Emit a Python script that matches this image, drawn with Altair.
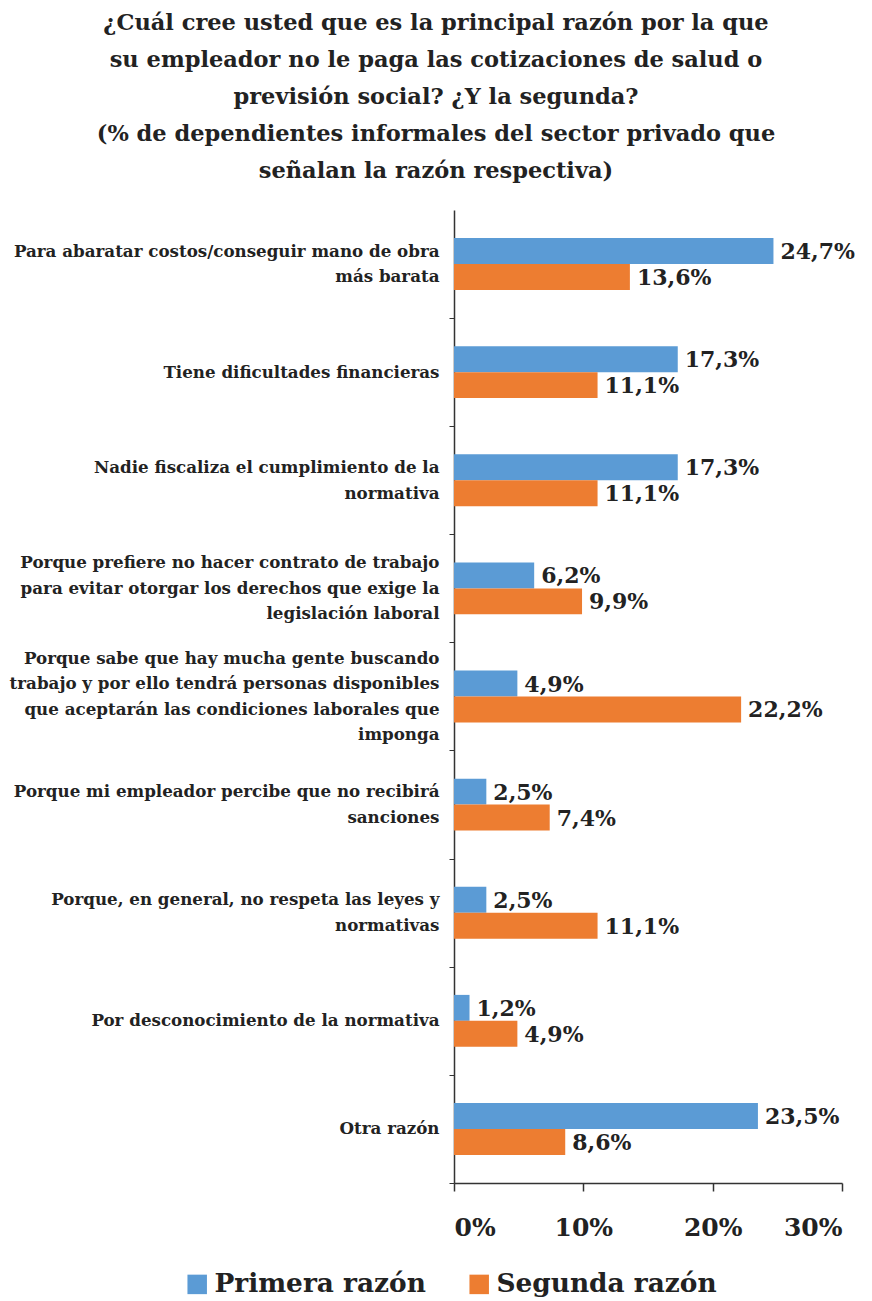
import altair as alt
import pandas as pd

categories = [
    "Para abaratar costos/conseguir mano de obra|más barata",
    "Tiene dificultades financieras",
    "Nadie fiscaliza el cumplimiento de la|normativa",
    "Porque prefiere no hacer contrato de trabajo|para evitar otorgar los derechos que exige la|legislación laboral",
    "Porque sabe que hay mucha gente buscando|trabajo y por ello tendrá personas disponibles|que aceptarán las condiciones laborales que|imponga",
    "Porque mi empleador percibe que no recibirá|sanciones",
    "Porque, en general, no respeta las leyes y|normativas",
    "Por desconocimiento de la normativa",
    "Otra razón",
]
series = ["Primera razón", "Segunda razón"]
primera = [24.7, 17.3, 17.3, 6.2, 4.9, 2.5, 2.5, 1.2, 23.5]
segunda = [13.6, 11.1, 11.1, 9.9, 22.2, 7.4, 11.1, 4.9, 8.6]
colors = ["#5B9BD5", "#ED7D31"]
x_ticks = [0, 10, 20, 30]

rows = []
for c, a, b in zip(categories, primera, segunda):
    for s, v in zip(series, [a, b]):
        rows.append({"cat": c, "serie": s, "valor": v,
                     "etiqueta": f"{v:.1f}".replace(".", ",") + "%"})
df = pd.DataFrame(rows)

FONT = "DejaVu Serif"
LH = 25.5
BASE_OFF = -28
nlines = "length(split(datum.value, '|'))"
label_offset = {
    "condition": [
        {"test": f"{nlines} == 2", "value": BASE_OFF - LH / 2},
        {"test": f"{nlines} == 3", "value": BASE_OFF - LH},
        {"test": f"{nlines} == 4", "value": BASE_OFF - 1.5 * LH},
    ],
    "value": BASE_OFF,
}

y_enc = alt.Y("cat:N", sort=categories, title=None,
              scale=alt.Scale(paddingInner=0.52, paddingOuter=0.26),
              axis=alt.Axis(labelExpr="split(datum.label, '|')",
                            labelAlign="right", labelBaseline="middle",
                            labelFont=FONT, labelFontWeight="bold",
                            labelFontSize=16.7, labelLineHeight=LH,
                            labelColor="#222222", labelPadding=10,
                            labelLimit=0, labelOffset=label_offset,
                            bandPosition=1, tickOffset=28,
                            tickSize=5, tickColor="#333333",
                            domainColor="#333333", domainWidth=1.5))
x_enc = alt.X("valor:Q", title=None,
              scale=alt.Scale(domain=[0, 30], nice=False),
              axis=alt.Axis(values=x_ticks, labelExpr="datum.value + '%'",
                            labelFont=FONT, labelFontWeight="bold",
                            labelFontSize=25, labelColor="#222222",
                            labelPadding=24, tickSize=8, tickColor="#333333",
                            tickWidth=1.5, domainColor="#333333",
                            domainWidth=1.5, grid=False))

base = alt.Chart(df).encode(
    y=y_enc,
    yOffset=alt.YOffset("serie:N", sort=series, scale=alt.Scale(paddingInner=0)),
)

bars = base.mark_bar().encode(
    x=x_enc,
    color=alt.Color("serie:N", sort=series,
                    scale=alt.Scale(domain=series, range=colors),
                    legend=alt.Legend(title=None, orient="none",
                                      direction="horizontal",
                                      legendX=-270, legendY=1061,
                                      symbolType="square", symbolSize=380,
                                      symbolStrokeWidth=0,
                                      labelFont=FONT, labelFontWeight="bold",
                                      labelFontSize=26.4, labelColor="#222222",
                                      labelLimit=0,
                                      columnPadding=40, labelOffset=4)),
)

labels = base.mark_text(align="left", baseline="middle", dx=7, dy=1,
                        font=FONT, fontWeight="bold", fontSize=22,
                        color="#222222").encode(
    x="valor:Q",
    text="etiqueta:N",
)

chart = alt.layer(bars, labels).properties(
    width=388,
    height=973,
    title=alt.TitleParams(
        text=["¿Cuál cree usted que es la principal razón por la que",
              "su empleador no le paga las cotizaciones de salud o",
              "previsión social? ¿Y la segunda?",
              "(% de dependientes informales del sector privado que",
              "señalan la razón respectiva)"],
        font=FONT, fontWeight="bold", fontSize=22.5, lineHeight=37,
        color="#222222", anchor="middle", frame="group", dx=-212, offset=28),
    padding={"left": 446, "top": 202, "right": 22, "bottom": 120},
    autosize=alt.AutoSizeParams(type="none"),
).configure_view(stroke=None).configure_axis(grid=False)

chart.save("out.html", embed_options={"renderer": "svg", "actions": False})
